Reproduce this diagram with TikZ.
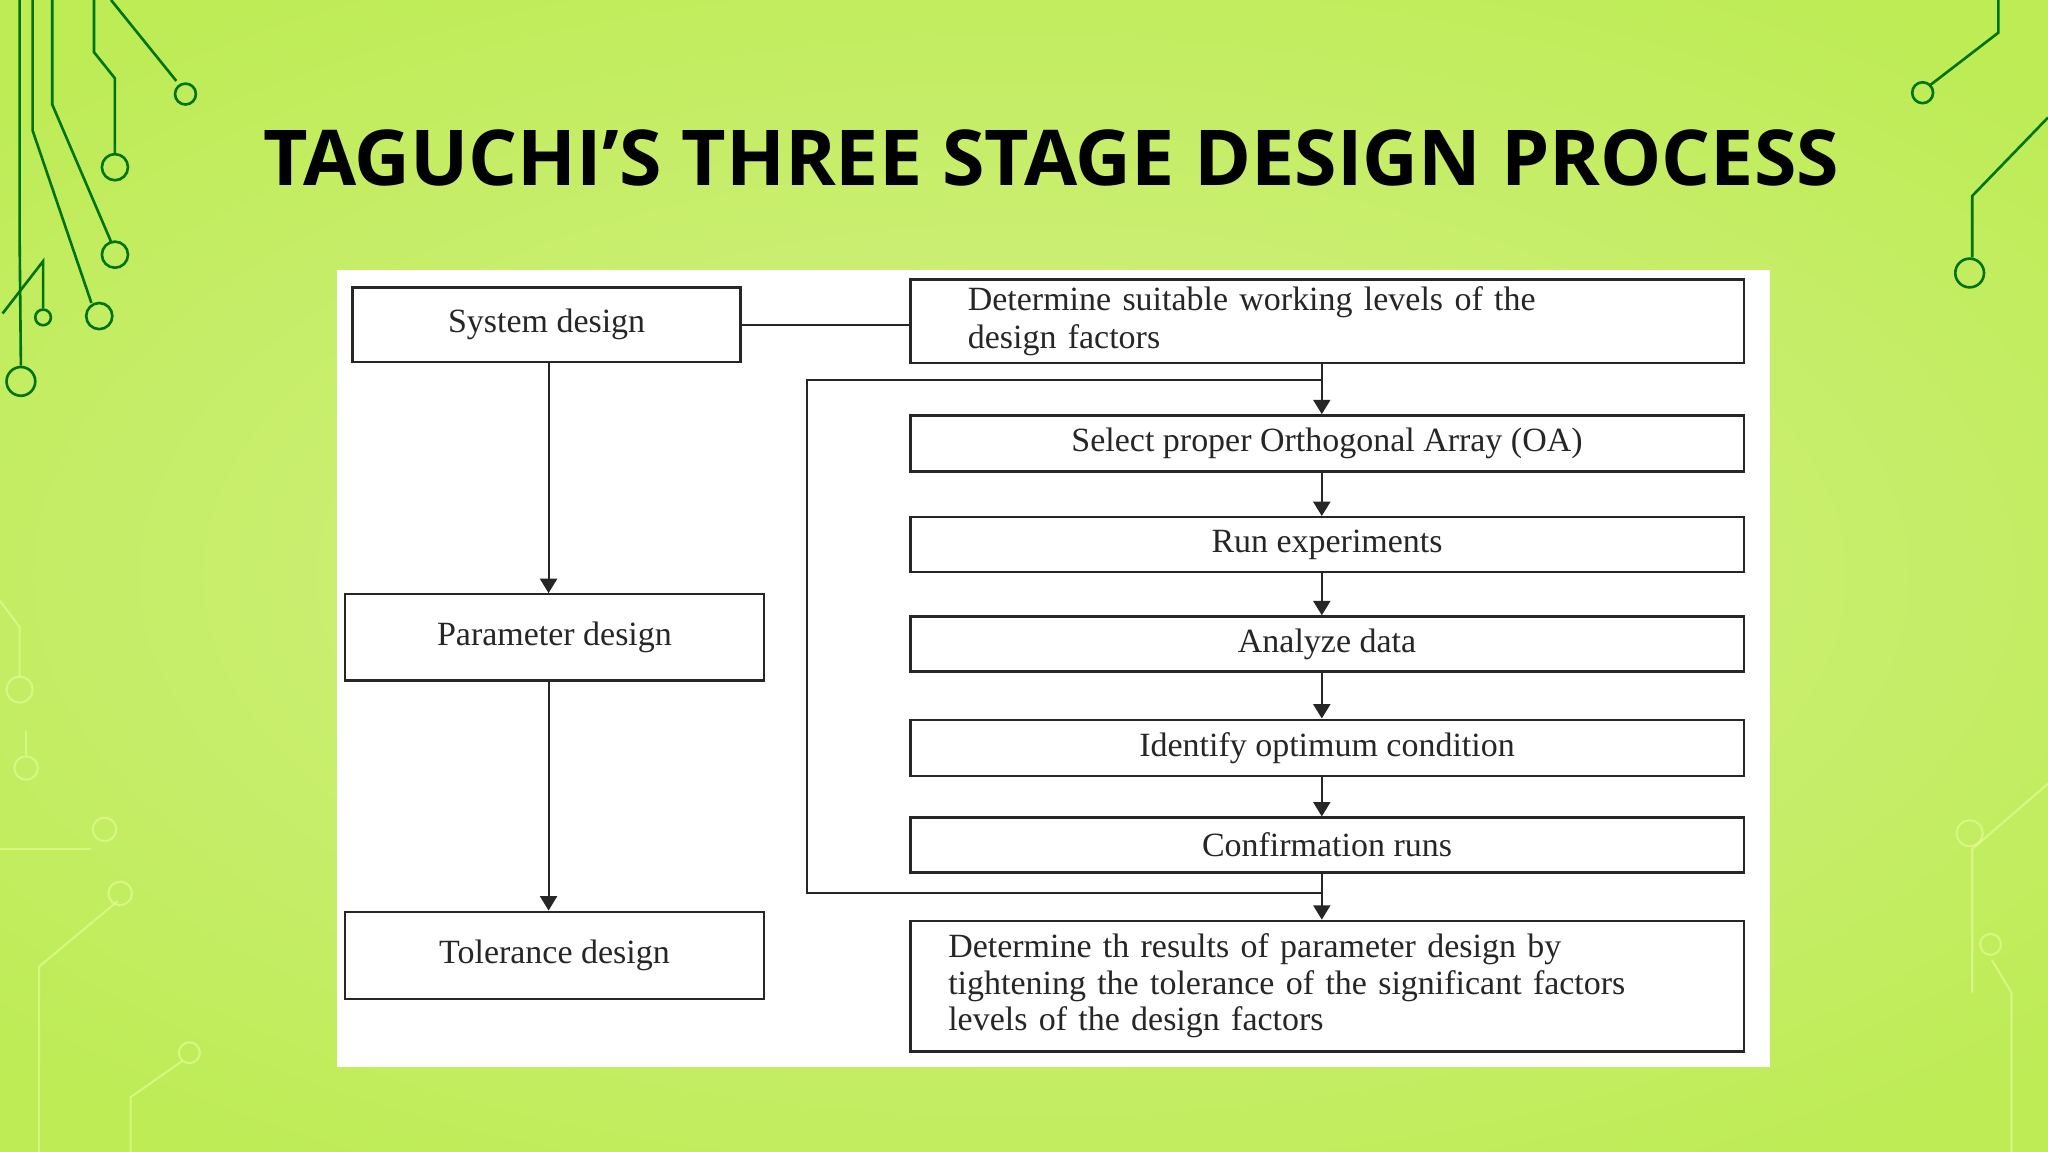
\documentclass[tikz,border=0pt]{standalone}
\usepackage{fontspec}
\setmainfont{Liberation Serif}
\newfontfamily\titlefont{Open Sans}
\usetikzlibrary{arrows.meta}
\definecolor{bgin}{HTML}{D6F08A}
\definecolor{bgout}{HTML}{BDEC55}
\begin{document}
\begin{tikzpicture}[x=1pt,y=-1pt,
  box/.style={draw=black!85,line width=1.8pt,fill=white,inner sep=4pt,font=\fontsize{26}{29}\selectfont,text=black!85},
  arr/.style={line width=1.6pt,draw=black!85,-{Triangle[length=11pt,width=13pt]}},
  ln/.style={line width=1.6pt,draw=black!85},
]
\useasboundingbox (0,0) rectangle (1568,882);
\shade[inner color=bgin, outer color=bgout] (-300,-100) rectangle (1868,982);
% circuit decorations
\begin{scope}[line width=2pt,draw=green!45!black]
\draw (72,0) -- (72,40) -- (88,60) -- (88,118); \draw (88,128) circle (10);
\draw (85,0) -- (135,62); \draw (142,72) circle (8);
\draw (40,0) -- (40,80) -- (85,185); \draw (88,195) circle (10);
\draw (25,0) -- (25,100) -- (70,232); \draw (76,242) circle (10);
\draw (15,0) -- (15,180) -- (16,280); \draw (16,292) circle (11);
\draw (2,240) -- (33,200) -- (33,236); \draw (33,243) circle (6);
\draw (1530,0) -- (1530,25) -- (1478,65); \draw (1472,71) circle (8);
\draw (1568,90) -- (1510,150) -- (1510,197); \draw (1508,209) circle (11);
\end{scope}
\begin{scope}[line width=1.6pt,draw=white!60!lime,opacity=0.6]
\draw (0,460) -- (15,480) -- (15,518); \draw (15,528) circle (10);
\draw (20,560) -- (20,578); \draw (20,588) circle (9);
\draw (0,650) -- (70,650); \draw (80,635) circle (9);
\draw (30,882) -- (30,740) -- (90,690); \draw (92,684) circle (9);
\draw (100,882) -- (100,840) -- (140,812); \draw (145,806) circle (8);
\draw (1568,600) -- (1510,650) -- (1510,760); \draw (1508,638) circle (10);
\draw (1540,882) -- (1540,760) -- (1525,735); \draw (1524,723) circle (8);
\end{scope}
\node[font=\titlefont\bfseries\fontsize{59}{68}\selectfont,text=black] (title) at (805,121) {TAGUCHI’S THREE STAGE DESIGN PROCESS};
\fill[white] (258,207) rectangle (1355,817);
% left column
\node[box,minimum width=297pt,minimum height=57pt] (sys) at (418.5,248.5) {System design};
\node[box,minimum width=321pt,minimum height=66pt] (par) at (424.5,488) {Parameter design};
\node[box,minimum width=321pt,minimum height=67pt] (tol) at (424.5,731.5) {Tolerance design};
% right column
\node[box,minimum width=638pt,minimum height=64pt,text width=550pt,align=left] (det) at (1016,246) {Determine suitable working levels of the\\design factors};
\node[box,minimum width=638pt,minimum height=43pt] (sel) at (1016,339.5) {Select proper Orthogonal Array (OA)};
\node[box,minimum width=638pt,minimum height=42pt] (run) at (1016,417) {Run experiments};
\node[box,minimum width=638pt,minimum height=42pt] (ana) at (1016,493) {Analyze data};
\node[box,minimum width=638pt,minimum height=43pt] (idt) at (1016,572.5) {Identify optimum condition};
\node[box,minimum width=638pt,minimum height=42pt] (con) at (1016,647) {Confirmation runs};
\node[box,minimum width=638pt,minimum height=100pt,text width=580pt,align=left,font=\fontsize{26}{28}\selectfont] (res) at (1016,755) {Determine th results of parameter design by\\tightening the tolerance of the significant factors\\levels of the design factors};
% connectors
\draw[ln] (sys.east) -- (sys.east -| det.west);
\draw[arr] (sys.south -| 420,0) -- (par.north -| 420,0);
\draw[arr] (par.south -| 420,0) -- (tol.north -| 420,0);
\coordinate (ltop) at (1012,291);
\coordinate (lbot) at (1012,684);
\draw[ln] (ltop) -- (618,291) -- (618,684) -- (lbot);
\draw[arr] (det.south -| 1012,0) -- (sel.north -| 1012,0);
\draw[arr] (sel.south -| 1012,0) -- (run.north -| 1012,0);
\draw[arr] (run.south -| 1012,0) -- (ana.north -| 1012,0);
\draw[arr] (ana.south -| 1012,0) -- (idt.north -| 1012,0);
\draw[arr] (idt.south -| 1012,0) -- (con.north -| 1012,0);
\draw[arr] (con.south -| 1012,0) -- (res.north -| 1012,0);
\end{tikzpicture}
\end{document}
